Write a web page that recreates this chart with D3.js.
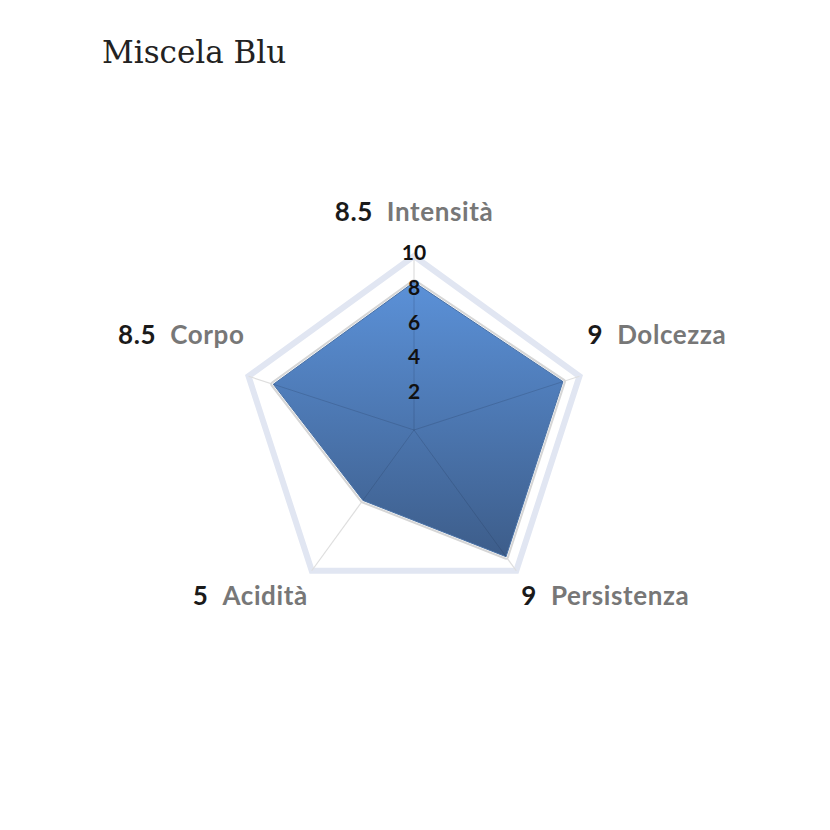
<!DOCTYPE html>
<html>
<head>
<meta charset="utf-8">
<script src="https://cdn.jsdelivr.net/npm/d3@7"></script>
<style>
  body { margin: 0; background: #fff; }
</style>
</head>
<body>
<div id="vis"></div>
<script>
const WIDTH = 830;
const HEIGHT = 830;
const CENTER = {x: 414, y: 430};
const RADIUS = 174;

// data
const axes = ["Intensità", "Dolcezza", "Persistenza", "Acidità", "Corpo"];
const values = [8.5, 9, 9, 5, 8.5];
const valueLabels = ["8.5", "9", "9", "5", "8.5"];
const ticks = [2, 4, 6, 8, 10];
const title = "Miscela Blu";

const svg = d3.select("#vis")
  .append("svg")
    .attr("width", WIDTH)
    .attr("height", HEIGHT);

const defs = svg.append("defs");
const grad = defs.append("linearGradient")
  .attr("id", "fillGrad")
  .attr("x1", 0).attr("y1", 0).attr("x2", 0).attr("y2", 1);
grad.append("stop").attr("offset", "0%").attr("stop-color", "#5b91d8");
grad.append("stop").attr("offset", "100%").attr("stop-color", "#3d5d8a");

svg.append("text")
  .attr("x", 102)
  .attr("y", 63)
  .attr("font-family", "Georgia, 'DejaVu Serif', serif")
  .attr("font-size", 31)
  .attr("fill", "#222")
  .text(title);

const rScale = d3.scaleLinear().domain([0, 10]).range([0, RADIUS]);
const angle = d3.scalePoint().domain(axes).range([0, 2 * Math.PI * (axes.length - 1) / axes.length]);

function pt(name, v) {
  const a = angle(name);
  return [CENTER.x + rScale(v) * Math.sin(a), CENTER.y - rScale(v) * Math.cos(a)];
}

const g = svg.append("g");

// outer ring
g.append("polygon")
  .attr("points", axes.map(a => pt(a, 10).join(",")).join(" "))
  .attr("fill", "none")
  .attr("stroke", "#e1e6f2")
  .attr("stroke-width", 6)
  .attr("stroke-linejoin", "miter");

// spokes outside area
g.selectAll(".spoke")
  .data(axes)
  .enter()
  .append("line")
    .attr("x1", CENTER.x).attr("y1", CENTER.y)
    .attr("x2", d => pt(d, 10)[0])
    .attr("y2", d => pt(d, 10)[1])
    .attr("stroke", "#dedede")
    .attr("stroke-width", 1.2);

const areaPts = axes.map((a, i) => pt(a, values[i]).join(",")).join(" ");

// soft border around area
g.append("polygon")
  .attr("points", areaPts)
  .attr("fill", "none")
  .attr("stroke", "#d6d6d6")
  .attr("stroke-width", 6)
  .attr("stroke-linejoin", "round");
g.append("polygon")
  .attr("points", areaPts)
  .attr("fill", "none")
  .attr("stroke", "#fff")
  .attr("stroke-width", 2);

g.append("polygon")
  .attr("points", areaPts)
  .attr("fill", "url(#fillGrad)")
  .attr("stroke", "#4a72a6")
  .attr("stroke-width", 1);

// spokes over area
g.selectAll(".spoke-in")
  .data(axes)
  .enter()
  .append("line")
    .attr("x1", CENTER.x).attr("y1", CENTER.y)
    .attr("x2", (d, i) => pt(d, values[i])[0])
    .attr("y2", (d, i) => pt(d, values[i])[1])
    .attr("stroke", "rgba(30,50,80,0.22)")
    .attr("stroke-width", 1);

// tick labels
g.selectAll(".tick")
  .data(ticks)
  .enter()
  .append("text")
    .attr("x", CENTER.x)
    .attr("y", d => CENTER.y - rScale(d) + 4)
    .attr("text-anchor", "middle")
    .attr("font-family", "Lato, 'Noto Sans', sans-serif")
    .attr("font-weight", 700)
    .attr("font-size", 21)
    .attr("fill", "#111")
    .text(d => d);

// axis labels
const labels = g.selectAll(".lbl")
  .data(axes)
  .enter()
  .append("text")
    .attr("font-family", "Lato, 'Noto Sans', sans-serif")
    .attr("font-weight", 700)
    .attr("font-size", 26)
    .attr("letter-spacing", 0.6)
    .attr("text-anchor", d => {
      const s = Math.sin(angle(d));
      return Math.abs(s) < 0.01 ? "middle" : (s > 0 ? "start" : "end");
    })
    .attr("x", d => {
      const p = pt(d, 10);
      const s = Math.sin(angle(d));
      if (Math.abs(s) < 0.01) return p[0];
      if (s > 0.8) return p[0] + 8;
      if (s > 0) return p[0] + 5;
      return p[0] - 4;
    })
    .attr("y", d => {
      const p = pt(d, 10);
      const c = Math.cos(angle(d));
      if (c > 0.99) return p[1] - 35;
      if (c > 0) return p[1] - 32;
      return p[1] + 34;
    });

labels.append("tspan")
  .attr("fill", "#1a1a1a")
  .text((d, i) => valueLabels[i]);
labels.append("tspan")
  .attr("fill", "#777")
  .attr("dx", 14)
  .text(d => d);
</script>
</body>
</html>
